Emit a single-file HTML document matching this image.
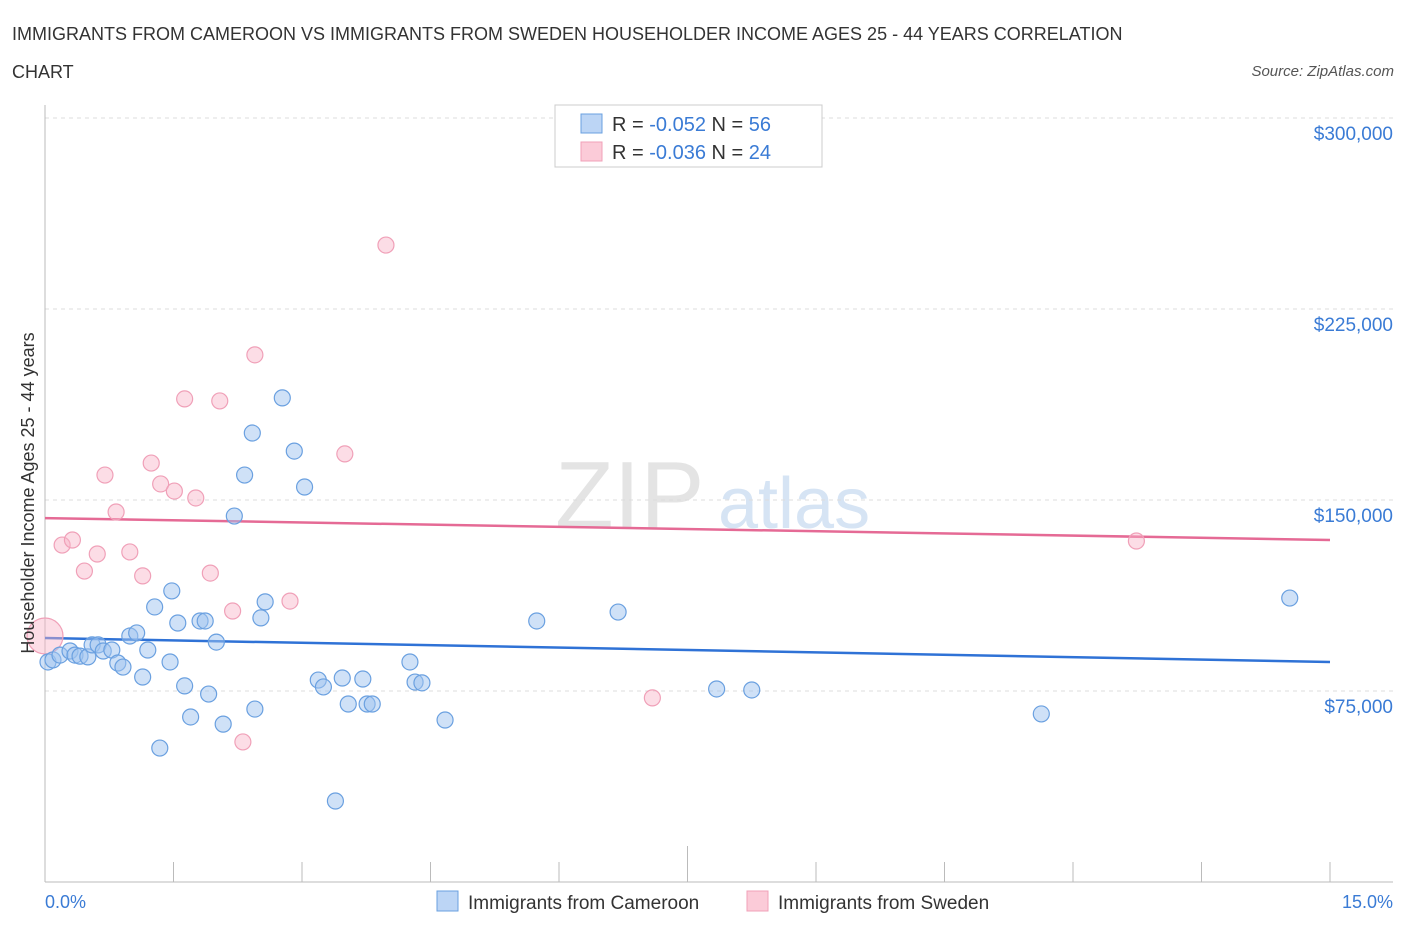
<!DOCTYPE html>
<html><head><meta charset="utf-8"><style>
body{margin:0;background:#fff;font-family:"Liberation Sans",sans-serif;}
svg text{font-family:"Liberation Sans",sans-serif;}
</style></head><body>
<svg id="chart" width="1406" height="930" xmlns="http://www.w3.org/2000/svg">
<text x="12" y="40" font-size="18" fill="#333">IMMIGRANTS FROM CAMEROON VS IMMIGRANTS FROM SWEDEN HOUSEHOLDER INCOME AGES 25 - 44 YEARS CORRELATION</text>
<text x="12" y="78" font-size="18" fill="#333">CHART</text>
<text x="1394" y="76" font-size="15" fill="#555" font-style="italic" text-anchor="end">Source: ZipAtlas.com</text>
<text x="555" y="528" font-size="96" fill="#e4e4e4" font-family="Liberation Serif">ZIP</text>
<text x="718" y="528" font-size="72" fill="#d6e4f4">atlas</text>
<g id="grid"></g>
<g id="axes"></g>
<line id="tb" stroke="#2f72d6" stroke-width="2.5"/>
<line id="tp" stroke="#e56a95" stroke-width="2.5"/>
<g id="dots"></g>
<text transform="translate(34,493) rotate(-90)" font-size="18" fill="#333" text-anchor="middle">Householder Income Ages 25 - 44 years</text>
<text x="45" y="908" font-size="18" fill="#3a7bd5">0.0%</text>
<text x="1393" y="908" font-size="18" fill="#3a7bd5" text-anchor="end">15.0%</text>
<g>
<rect x="555" y="105" width="267" height="62" fill="#fff" stroke="#ccc"/>
<rect x="581" y="114" width="21" height="19" fill="#bcd5f5" stroke="#6aa0e0"/>
<rect x="581" y="142" width="21" height="19" fill="#fbcbd8" stroke="#f0a0b8"/>
<text x="612" y="131" font-size="20" fill="#333">R = <tspan fill="#3a7bd5">-0.052</tspan>   N = <tspan fill="#3a7bd5">56</tspan></text>
<text x="612" y="159" font-size="20" fill="#333">R = <tspan fill="#3a7bd5">-0.036</tspan>   N = <tspan fill="#3a7bd5">24</tspan></text>
</g>
<g>
<rect x="437" y="891" width="21" height="20" fill="#bcd5f5" stroke="#6aa0e0"/>
<text x="468" y="909" font-size="19" fill="#333">Immigrants from Cameroon</text>
<rect x="747" y="891" width="21" height="20" fill="#fbcbd8" stroke="#f0a0b8"/>
<text x="778" y="909" font-size="19" fill="#333">Immigrants from Sweden</text>
</g>
</svg>
<script>
const yTicks=[75000,150000,225000,300000];
const yTickLabels=["$75,000","$150,000","$225,000","$300,000"];
const xTicks=[0,1.5,3,4.5,6,7.5,9,10.5,12,13.5,15];
const cameroonX=[0.035,0.093,0.175,0.292,0.35,0.409,0.50,0.55,0.62,0.68,0.78,0.85,0.91,0.99,1.07,1.14,1.20,1.28,1.34,1.46,1.48,1.55,1.63,1.70,1.81,1.87,1.91,2.00,2.08,2.21,2.33,2.42,2.45,2.52,2.57,2.77,2.91,3.03,3.19,3.25,3.39,3.47,3.54,3.71,3.76,3.82,4.26,4.32,4.40,4.67,5.74,6.69,7.84,8.25,11.63,14.53];
const cameroonY=[86.4,87.2,89.1,90.7,89.1,88.7,88.4,93.1,93.1,90.7,91.1,86.0,84.4,96.6,97.8,80.5,91.1,108.0,52.6,86.4,114.3,101.7,77.0,64.8,102.5,102.5,73.8,94.2,62.0,143.7,159.8,176.3,67.9,103.7,110.0,190.1,169.2,155.1,79.3,76.6,31.8,80.1,69.9,79.7,69.9,69.9,86.4,78.5,78.2,63.6,102.5,106.0,75.8,75.4,66.0,111.5];
const swedenX=[0,0.20,0.32,0.46,0.61,0.70,0.83,0.99,1.14,1.24,1.35,1.51,1.63,1.76,1.93,2.04,2.19,2.31,2.45,2.86,3.50,3.98,7.09,12.74];
const swedenY=[96.6,132.3,134.3,122.1,128.8,159.8,145.3,129.6,120.2,164.5,156.3,153.5,189.7,150.8,121.3,188.9,106.4,55.0,207.0,110.3,168.1,250.1,72.3,133.9];
const cameroonTrend=[95.8,86.4];
const swedenTrend=[142.9,134.3];
const NS="http://www.w3.org/2000/svg";
const X=v=>45+v/15*1285;
const Y=v=>691-(v-75000)*191/75000;
const Yk=v=>Y(v*1000);
function mk(t,a,p){const e=document.createElementNS(NS,t);for(const k in a)e.setAttribute(k,a[k]);p.appendChild(e);return e;}
const grid=document.getElementById('grid'),axes=document.getElementById('axes'),dots=document.getElementById('dots');
yTicks.forEach((v,i)=>{
 const l=mk('line',{x1:45,x2:1393,y1:Y(v),y2:Y(v),stroke:'#ddd','stroke-dasharray':'4,4'},grid);
 
 
 const t=mk('text',{x:1393,y:Y(v)+22,'font-size':19,fill:'#3a7bd5','text-anchor':'end'},grid);
 t.textContent=yTickLabels[i];
 
 
});
const ya=mk('line',{x1:45,x2:45,y1:105,y2:882,stroke:'#bbb'},axes);


const xa=mk('line',{x1:45,x2:1393,y1:882,y2:882,stroke:'#bbb'},axes);


xTicks.forEach((v,i)=>{
 const tk=mk('line',{x1:X(v),x2:X(v),y1:i==5?846:862,y2:882,stroke:'#bbb'},axes);
 
 
});
const tb=document.getElementById('tb');
tb.setAttribute('x1',X(0));tb.setAttribute('x2',X(15));tb.setAttribute('y1',Yk(cameroonTrend[0]));tb.setAttribute('y2',Yk(cameroonTrend[1]));
const tp=document.getElementById('tp');
tp.setAttribute('x1',X(0));tp.setAttribute('x2',X(15));tp.setAttribute('y1',Yk(swedenTrend[0]));tp.setAttribute('y2',Yk(swedenTrend[1]));
swedenX.forEach((v,i)=>{
 const c=mk('circle',{cx:X(v),cy:Yk(swedenY[i]),r:i==0?18:8,fill:'rgba(248,180,200,0.45)',stroke:'#f0a0b8','stroke-width':1.2},dots);
 
 
});
cameroonX.forEach((v,i)=>{
 const c=mk('circle',{cx:X(v),cy:Yk(cameroonY[i]),r:8,fill:'rgba(160,196,240,0.5)',stroke:'#6aa0e0','stroke-width':1.2},dots);
 
 
});
</script>
</body></html>
